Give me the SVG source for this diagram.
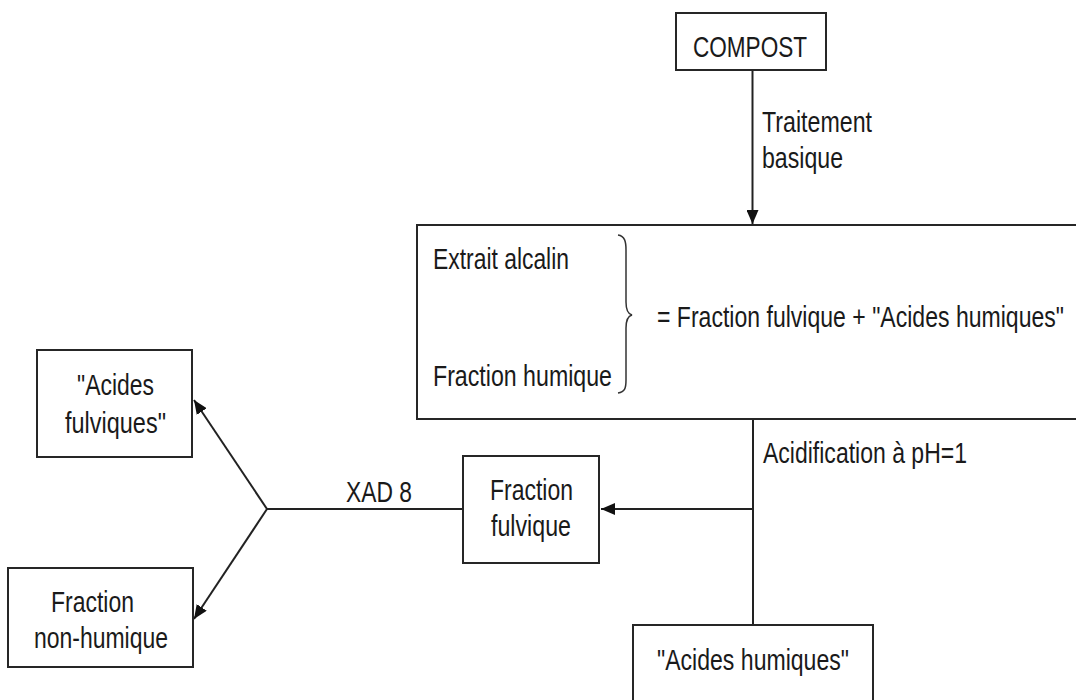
<svg xmlns="http://www.w3.org/2000/svg" width="1076" height="700" viewBox="0 0 1076 700">
<style>
.box{fill:#fff;stroke:#262626;stroke-width:2}
.t{font-family:"Liberation Sans",Arial,sans-serif;font-size:30px;fill:#1a1a1a}
.c{fill:none;stroke:#222;stroke-width:2}
.br{fill:none;stroke:#333;stroke-width:1.5}
</style>
<defs>
<marker id="arr" markerUnits="userSpaceOnUse" markerWidth="14" markerHeight="12" refX="14" refY="6" orient="auto">
<path d="M0,0 L14,6 L0,12 z" fill="#111"/>
</marker>
</defs>
<rect width="1076" height="700" fill="#fff"/>
<g id="connectors">
<line class="c" x1="752.5" y1="70" x2="752.5" y2="224" marker-end="url(#arr)"/>
<line class="c" x1="753" y1="419" x2="753" y2="625"/>
<line class="c" x1="753" y1="509" x2="601" y2="509" marker-end="url(#arr)"/>
<line class="c" x1="465" y1="509" x2="267" y2="509"/>
<line class="c" x1="267" y1="509" x2="194" y2="400" marker-end="url(#arr)"/>
<line class="c" x1="267" y1="509" x2="194" y2="619" marker-end="url(#arr)"/>
<text class="t" x="762" y="132" textLength="110" lengthAdjust="spacingAndGlyphs">Traitement</text>
<text class="t" x="762" y="168" textLength="81" lengthAdjust="spacingAndGlyphs">basique</text>
<text class="t" x="763" y="463" textLength="204" lengthAdjust="spacingAndGlyphs">Acidification à pH=1</text>
<text class="t" x="346" y="502" textLength="66" lengthAdjust="spacingAndGlyphs">XAD 8</text>
</g>
<g id="compost">
<rect class="box" x="676" y="13" width="150" height="57"/>
<text class="t" x="693" y="57" textLength="114" lengthAdjust="spacingAndGlyphs">COMPOST</text>
</g>
<g id="extrait">
<rect class="box" x="417" y="225" width="700" height="194"/>
<text class="t" x="433" y="269" textLength="136" lengthAdjust="spacingAndGlyphs">Extrait alcalin</text>
<text class="t" x="433" y="386" textLength="179" lengthAdjust="spacingAndGlyphs">Fraction humique</text>
<path class="br" d="M618,235 C625,236 626,242 626,250 L626,302 C626,310 628,314 632,315 C628,316 626,320 626,328 L626,380 C626,388 625,392 618,393"/>
<text class="t" x="657" y="327" textLength="407" lengthAdjust="spacingAndGlyphs">= Fraction fulvique + "Acides humiques"</text>
</g>
<g id="fraction-fulvique">
<rect class="box" x="463" y="456" width="136" height="107"/>
<text class="t" x="490" y="500" textLength="83" lengthAdjust="spacingAndGlyphs">Fraction</text>
<text class="t" x="491" y="536" textLength="80" lengthAdjust="spacingAndGlyphs">fulvique</text>
</g>
<g id="acides-fulviques">
<rect class="box" x="37" y="350" width="155" height="107"/>
<text class="t" x="77" y="395" textLength="77" lengthAdjust="spacingAndGlyphs">"Acides</text>
<text class="t" x="65" y="433" textLength="101" lengthAdjust="spacingAndGlyphs">fulviques"</text>
</g>
<g id="fraction-non-humique">
<rect class="box" x="8" y="568" width="185" height="99"/>
<text class="t" x="51" y="612" textLength="83" lengthAdjust="spacingAndGlyphs">Fraction</text>
<text class="t" x="34" y="648" textLength="134" lengthAdjust="spacingAndGlyphs">non-humique</text>
</g>
<g id="acides-humiques">
<rect class="box" x="633" y="625" width="240" height="100"/>
<text class="t" x="657" y="670" textLength="192" lengthAdjust="spacingAndGlyphs">"Acides humiques"</text>
</g>
</svg>
